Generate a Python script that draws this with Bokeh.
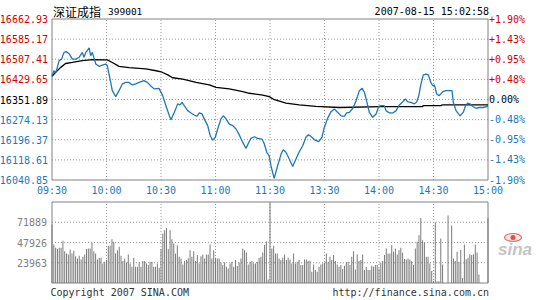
from bokeh.plotting import figure
from bokeh.models import Range1d
from bokeh.core.properties import value
from bokeh.embed import file_html
from bokeh.resources import INLINE

# ---------------- data ----------------
time_ticks = [0, 30, 60, 90, 120, 150, 180, 210, 240]
time_labels = ["09:30", "10:00", "10:30", "11:00", "11:30", "13:30", "14:00", "14:30", "15:00"]

prev_close = 16351.89
price_levels = [16040.85, 16118.61, 16196.37, 16274.13, 16351.89, 16429.65, 16507.41, 16585.17, 16662.93]
price_labels = ["16040.85", "16118.61", "16196.37", "16274.13", "16351.89",
                "16429.65", "16507.41", "16585.17", "16662.93"]
pct_labels = ["-1.90%", "-1.43%", "-0.95%", "-0.48%", "0.00%", "+0.48%", "+0.95%", "+1.43%", "+1.90%"]

vol_levels = [23963, 47926, 71889]
vol_labels = ["23963", "47926", "71889"]
vol_top = 95852

title_name = "深证成指"
title_code = "399001"
stamp_text = "2007-08-15 15:02:58"
copyright_text = "Copyright 2007 SINA.COM"
url_text = "http://finance.sina.com.cn"
logo_text = "sina"

# minutes since 09:30 (trading minutes, lunch break removed)
price_min = [0, 1.1, 2.2, 3.9, 5.3, 6.6, 7.9, 9.4, 11.2, 13.0,
             14.9, 16.7, 17.6, 18.6, 19.4, 20.4, 21.3, 22.2, 24.1, 25.9,
             27.7, 29.6, 30.4, 31.4, 32.3, 33.2, 35.1, 36.9, 38.7, 40.6,
             42.4, 44.2, 46.1, 47.9, 50.6, 52.5, 54.3, 56.2, 58.9, 60.9,
             62.7, 64.6, 65.5, 67.3, 69.2, 70.5, 71.6, 72.8, 74.7, 76.5,
             78.3, 79.7, 81.1, 82.6, 83.8, 85.7, 87.1, 88.5, 89.9, 91.2,
             93.0, 94.3, 95.8, 97.6, 99.5, 101.3, 103.1, 105.0, 106.8, 108.3,
             109.5, 111.4, 113.2, 115.6, 116.9, 118.2, 119.5, 120.5, 122.3, 124.2,
             126.1, 127.3, 128.8, 130.6, 132.5, 134.3, 136.1, 138.0, 139.8, 141.1,
             142.6, 144.4, 146.8, 148.6, 149.9, 151.7, 153.6, 155.4, 157.3, 159.1,
             160.9, 162.2, 163.7, 165.6, 167.4, 169.2, 170.7, 172.0, 173.3, 174.7,
             176.5, 178.4, 179.8, 181.1, 182.9, 183.9, 185.7, 187.6, 189.4, 191.2,
             193.1, 194.5, 195.8, 197.6, 199.5, 200.8, 201.9, 203.1, 204.4, 205.9,
             207.2, 208.3, 209.6, 210.5, 211.8, 213.2, 215.1, 216.9, 220.2, 220.9,
             222.4, 224.6, 226.4, 227.5, 228.8, 230.1, 231.6, 233.4, 235.2, 237.1,
             240]
price_val = [16444, 16463, 16457, 16502, 16508, 16534, 16537, 16529, 16508, 16508,
             16515, 16534, 16515, 16534, 16541, 16551, 16521, 16534, 16489, 16480,
             16485, 16489, 16483, 16450, 16418, 16386, 16363, 16386, 16412, 16418,
             16418, 16408, 16412, 16418, 16425, 16418, 16405, 16393, 16395, 16367,
             16328, 16289, 16274, 16302, 16335, 16331, 16341, 16328, 16309, 16300,
             16292, 16287, 16300, 16296, 16277, 16251, 16212, 16195, 16206, 16238,
             16277, 16289, 16277, 16257, 16251, 16238, 16215, 16186, 16163, 16186,
             16202, 16208, 16202, 16199, 16180, 16148, 16135, 16096, 16047, 16096,
             16141, 16158, 16148, 16122, 16093, 16122, 16150, 16173, 16206, 16216,
             16209, 16197, 16189, 16206, 16244, 16279, 16305, 16315, 16302, 16289,
             16287, 16300, 16302, 16318, 16347, 16386, 16395, 16379, 16343, 16302,
             16283, 16296, 16325, 16328, 16328, 16309, 16300, 16300, 16309, 16331,
             16343, 16354, 16343, 16341, 16335, 16343, 16367, 16412, 16447, 16450,
             16447, 16421, 16405, 16408, 16373, 16367, 16382, 16386, 16386, 16341,
             16309, 16289, 16302, 16325, 16338, 16335, 16325, 16318, 16321, 16321,
             16325]

avg_min = [0, 2.0, 4.8, 7.5, 11.2, 16.7, 22.2, 30.4, 33.2, 36.9,
           42.4, 51.6, 57.3, 60.0, 63.7, 66.4, 72.0, 79.3, 86.6, 90.3,
           97.6, 105.0, 108.6, 116.0, 119.6, 122.4, 128.8, 136.1, 145.3, 158.2,
           181.1, 204.1, 204.2, 214.1, 214.7, 240]
avg_val = [16441, 16457, 16476, 16491, 16495, 16502, 16506, 16505, 16495, 16480,
           16475, 16470, 16463, 16459, 16447, 16436, 16431, 16418, 16408, 16399,
           16393, 16382, 16376, 16369, 16363, 16351, 16338, 16331, 16325, 16321,
           16324, 16324, 16328, 16328, 16331, 16331]

vol_min = list(range(241))
volume = [
    69200, 45600, 41700, 40100, 41700, 41700, 49900, 37700, 35000, 33800,
    39700, 35000, 38100, 31800, 29100, 32200, 27900, 31000, 33800, 40100,
    40900, 40900, 47900, 37700, 35000, 27900, 29900, 29900, 23200, 25200, 27500,
    44000, 44000, 51900, 48700, 35000, 38900, 42800, 32200, 25900, 29100,
    24400, 33800, 23200, 19300, 29900, 19300, 19300, 24400, 19300, 25900,
    25900, 23200, 21200, 25200, 25200, 19300, 19300, 23200, 18100, 40100,
    58600, 62500, 65200, 40100, 62500, 51900, 46800, 35000, 44800, 31000,
    29100, 22000, 25900, 27100, 29100, 38900, 31000, 37700, 25900, 33000,
    23200, 31800, 33800, 29100, 33800, 33800, 45600, 29100, 38900, 29900,
    29100, 29100, 24400, 21200, 24400, 19300, 17300, 23200, 25200, 19300,
    27100, 20000, 24400, 29100, 40900, 38900, 36200, 22000, 25200, 25900,
    23200, 23200, 25200, 29900, 31000, 36000, 45000, 49000, 4000, 100000,
    40900, 44000, 35000, 35000, 29100, 27100, 29900, 33800, 27100, 29900,
    27900, 23200, 35000, 23200, 25200, 27100, 21200, 21200, 27900, 27900,
    26300, 26300, 13400, 22000, 15300, 13400, 19300, 22000, 23200, 24000,
    35000, 25200, 31000, 27100, 33000, 25900, 22000, 19300, 21200, 16500,
    20400, 24400, 25200, 21200, 31000, 37700, 16100, 33800, 25900, 27100,
    33800, 15300, 19300, 15300, 15300, 20400, 19300, 21200, 21200, 17300,
    24000, 25900, 33000, 40900, 35000, 35000, 44800, 36900, 40900, 33800,
    38900, 41700, 36200, 28300, 27900, 29100, 27900, 25900, 21200, 40900,
    48700, 56600, 77000, 50700, 47900, 31000, 31000, 23200, 14100, 2400,
    72000, 2000, 2000, 52700, 22000, 0, 0, 80000, 0, 68000,
    29000, 26000, 37000, 25000, 39000, 6000, 45600, 28000, 30000, 34000,
    33000, 34000, 45600, 36000, 10000, 0, 0, 0, 0, 77000,
]

# ---------------- layout (pixels) & styles ----------------
W, H = 545, 300
PX_LEFT, PX_RIGHT = 51.5, 487.5          # x pixel of 09:30 and 15:00
PX_P_TOP, PX_P_BOT = 18.5, 179.5         # price panel top / bottom
PX_V_TOP, PX_V_BOT = 201.5, 282.5        # volume panel top / bottom

MONO = "DejaVu Sans Mono"
RED = "#d40000"
BLUE = "#1f77b8"
GRIDC = "#9a9a9a"
FRAME = "#808080"

t0, t1 = time_ticks[0], time_ticks[-1]
lo, hi = price_levels[0], price_levels[-1]

sx = (t1 - t0) / (PX_RIGHT - PX_LEFT)
sy = (hi - lo) / (PX_P_BOT - PX_P_TOP)
sv = (vol_top - 0) / (PX_V_BOT - PX_V_TOP)

x_range = Range1d(t0 - PX_LEFT * sx, t1 + (W - PX_RIGHT) * sx)
y_range = Range1d(lo - (H - PX_P_BOT) * sy, hi + PX_P_TOP * sy)
v_range = Range1d(0 - (H - PX_V_BOT) * sv, vol_top + PX_V_TOP * sv)


def level_color(v):
    if abs(v - prev_close) < 0.005:
        return "black"
    return RED if v > prev_close else BLUE


lvl_colors = [level_color(v) for v in price_levels]

p = figure(width=W, height=H, title=None, x_range=x_range, y_range=y_range,
           x_axis_location=None, y_axis_location=None,
           output_backend="svg", toolbar_location=None,
           min_border_left=0, min_border_right=0, min_border_top=0, min_border_bottom=0,
           outline_line_color=None, background_fill_color="white", border_fill_color="white")
p.grid.visible = False
p.extra_y_ranges = {"vol": v_range}

# ---- price panel ----
inner_t = time_ticks[1:-1]
p.segment(x0=inner_t, x1=inner_t, y0=[lo] * len(inner_t), y1=[hi] * len(inner_t),
          line_color=GRIDC, line_dash="1 2", line_width=1)
inner_p = price_levels[1:-1]
p.segment(x0=[t0] * len(inner_p), x1=[t1] * len(inner_p), y0=inner_p, y1=inner_p,
          line_color=GRIDC, line_dash="1 2", line_width=1)
p.quad(left=[t0], right=[t1], bottom=[lo], top=[hi], fill_color=None,
       line_color=FRAME, line_width=1)

p.line(avg_min, avg_val, line_color="black", line_width=1.3)
p.line(price_min, price_val, line_color=BLUE, line_width=1.3)

p.text(x=[t0] * len(price_levels), y=price_levels, text=price_labels, text_color=lvl_colors,
       text_align="right", text_baseline="middle", x_offset=-4,
       text_font=value(MONO), text_font_size="10px")
p.text(x=[t1] * len(price_levels), y=price_levels, text=pct_labels, text_color=lvl_colors,
       text_align="left", text_baseline="middle", x_offset=1,
       text_font=value(MONO), text_font_size="10px")
p.text(x=time_ticks, y=[lo] * len(time_ticks), text=time_labels, text_color=BLUE,
       text_align="center", text_baseline="middle", y_offset=10,
       text_font=value(MONO), text_font_size="10px")
p.text(x=[t0], y=[hi], text=[title_name], text_color="black",
       text_align="left", text_baseline="middle", x_offset=1, y_offset=-8,
       text_font=value("Noto Sans CJK SC"), text_font_size="12px")
p.text(x=[t0], y=[hi], text=[title_code], text_color="black",
       text_align="left", text_baseline="middle", x_offset=56, y_offset=-8,
       text_font=value(MONO), text_font_size="9.5px")
p.text(x=[t1], y=[hi], text=[stamp_text], text_color="black",
       text_align="right", text_baseline="middle", x_offset=1, y_offset=-8,
       text_font=value(MONO), text_font_size="10px")

# ---- volume panel ----
p.segment(x0=inner_t, x1=inner_t, y0=[0] * len(inner_t), y1=[vol_top] * len(inner_t),
          line_color=GRIDC, line_dash="1 2", line_width=1, y_range_name="vol")
p.segment(x0=[t0] * len(vol_levels), x1=[t1] * len(vol_levels), y0=vol_levels, y1=vol_levels,
          line_color=GRIDC, line_dash="1 2", line_width=1, y_range_name="vol")
bar_tops = [min(v, vol_top) for v in volume]
p.vbar(x=vol_min, top=bar_tops, bottom=0, width=0.55, fill_color="#7a7a7a",
       line_color=None, y_range_name="vol")
p.quad(left=[t0], right=[t1], bottom=[0], top=[vol_top], fill_color=None,
       line_color=FRAME, line_width=1, y_range_name="vol")

p.text(x=[t0] * len(vol_levels), y=vol_levels, text=vol_labels, text_color="#808080",
       text_align="right", text_baseline="middle", x_offset=-5,
       text_font=value(MONO), text_font_size="10px", y_range_name="vol")
p.text(x=[t0], y=[0], text=[copyright_text], text_color="#333333",
       text_align="left", text_baseline="middle", x_offset=-1.5, y_offset=9,
       text_font=value(MONO), text_font_size="10px", y_range_name="vol")
p.text(x=[t1], y=[0], text=[url_text], text_color="#333333",
       text_align="right", text_baseline="middle", x_offset=1, y_offset=9,
       text_font=value(MONO), text_font_size="10px", y_range_name="vol")

# sina logo: red eye above grey italic word
eye_x = t1 + 25 * sx
eye_y = vol_levels[1] + 5 * sv
p.ellipse(x=[eye_x], y=[eye_y], width=17, height=8, width_units="screen", height_units="screen",
          fill_color="#fbe3e3", line_color="#e06a6a", line_width=1.2, y_range_name="vol")
p.scatter(x=[eye_x], y=[eye_y], size=5, marker="circle", fill_color="#e05050",
          line_color=None, y_range_name="vol")
p.text(x=[t1], y=[vol_levels[1]], text=[logo_text], text_color="#c4c4c4",
       text_align="left", text_baseline="middle", x_offset=10, y_offset=7,
       text_font=value("Liberation Sans"), text_font_style="bold italic",
       text_font_size="17px", y_range_name="vol")

open("out.html", "w").write(file_html(p, INLINE))
